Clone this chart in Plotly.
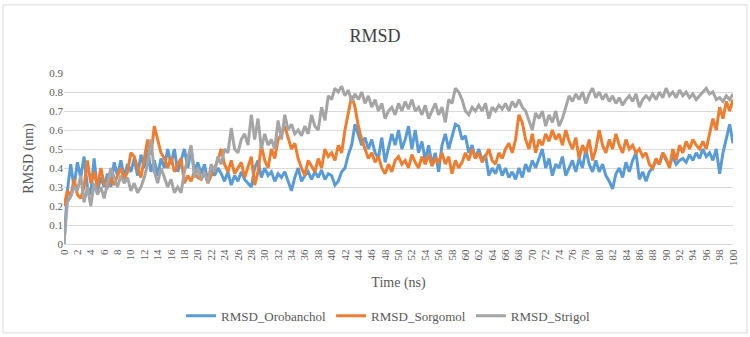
import plotly.graph_objects as go

time_ns = [i * 0.5 for i in range(201)]

orobanchol = [
0.00,0.28,0.42,0.30,0.43,0.35,0.46,0.30,0.26,0.45,0.28,0.35,0.30,0.37,0.30,0.43,0.36,0.44,0.35,0.42,
0.38,0.45,0.36,0.47,0.40,0.50,0.38,0.44,0.36,0.45,0.40,0.50,0.42,0.50,0.38,0.44,0.50,0.40,0.50,0.38,
0.43,0.37,0.42,0.33,0.40,0.36,0.40,0.37,0.33,0.38,0.31,0.36,0.33,0.38,0.34,0.32,0.30,0.40,0.44,0.35,
0.40,0.36,0.38,0.33,0.37,0.35,0.38,0.33,0.28,0.35,0.40,0.33,0.36,0.38,0.34,0.38,0.35,0.39,0.34,0.37,
0.36,0.31,0.33,0.38,0.40,0.47,0.52,0.63,0.58,0.52,0.56,0.50,0.55,0.48,0.45,0.56,0.43,0.50,0.58,0.52,
0.60,0.50,0.55,0.62,0.50,0.60,0.48,0.54,0.44,0.52,0.42,0.48,0.38,0.52,0.58,0.50,0.56,0.63,0.62,0.55,
0.57,0.48,0.52,0.45,0.50,0.44,0.47,0.36,0.40,0.37,0.42,0.36,0.40,0.35,0.38,0.34,0.40,0.35,0.42,0.38,
0.44,0.40,0.45,0.50,0.40,0.45,0.36,0.42,0.40,0.46,0.36,0.40,0.44,0.38,0.45,0.40,0.50,0.42,0.38,0.44,
0.38,0.42,0.36,0.33,0.29,0.37,0.40,0.35,0.43,0.38,0.44,0.48,0.34,0.38,0.33,0.38,0.40,0.44,0.42,0.48,
0.44,0.41,0.46,0.42,0.44,0.45,0.43,0.47,0.44,0.48,0.45,0.50,0.46,0.48,0.44,0.50,0.37,0.48,0.55,0.63,
0.53]

sorgomol = [
0.20,0.28,0.25,0.34,0.26,0.24,0.30,0.44,0.32,0.38,0.30,0.40,0.32,0.30,0.35,0.31,0.36,0.40,0.34,0.38,
0.48,0.46,0.40,0.35,0.45,0.55,0.47,0.62,0.55,0.48,0.45,0.40,0.46,0.38,0.42,0.45,0.32,0.36,0.33,0.38,
0.35,0.34,0.38,0.32,0.36,0.40,0.44,0.50,0.42,0.38,0.44,0.37,0.40,0.43,0.35,0.40,0.46,0.31,0.38,0.52,
0.44,0.40,0.50,0.45,0.55,0.58,0.62,0.56,0.50,0.53,0.45,0.40,0.36,0.44,0.41,0.38,0.45,0.40,0.50,0.46,
0.48,0.44,0.52,0.48,0.60,0.70,0.78,0.72,0.62,0.55,0.50,0.45,0.48,0.43,0.46,0.40,0.37,0.42,0.38,0.44,
0.46,0.42,0.44,0.40,0.47,0.43,0.40,0.46,0.42,0.47,0.41,0.45,0.43,0.48,0.42,0.46,0.37,0.44,0.40,0.43,
0.48,0.44,0.50,0.45,0.48,0.43,0.46,0.50,0.44,0.42,0.48,0.45,0.50,0.53,0.48,0.55,0.68,0.64,0.55,0.50,
0.58,0.48,0.55,0.52,0.58,0.54,0.60,0.55,0.58,0.52,0.60,0.54,0.50,0.56,0.45,0.52,0.48,0.55,0.44,0.50,
0.60,0.52,0.48,0.55,0.50,0.58,0.52,0.48,0.55,0.50,0.52,0.48,0.50,0.46,0.48,0.42,0.40,0.45,0.42,0.48,
0.45,0.40,0.50,0.44,0.52,0.48,0.54,0.50,0.55,0.52,0.50,0.54,0.50,0.58,0.66,0.60,0.72,0.66,0.75,0.70,
0.76]

strigol = [
0.00,0.22,0.25,0.30,0.28,0.36,0.22,0.30,0.20,0.32,0.26,0.30,0.24,0.32,0.40,0.35,0.30,0.36,0.32,0.35,
0.28,0.32,0.27,0.30,0.35,0.42,0.55,0.38,0.32,0.40,0.35,0.30,0.34,0.27,0.30,0.27,0.38,0.45,0.52,0.35,
0.40,0.34,0.38,0.32,0.42,0.38,0.46,0.42,0.50,0.48,0.61,0.50,0.48,0.55,0.58,0.52,0.68,0.55,0.66,0.50,
0.58,0.52,0.55,0.50,0.65,0.55,0.68,0.60,0.63,0.58,0.60,0.57,0.62,0.58,0.68,0.62,0.60,0.72,0.65,0.78,
0.76,0.82,0.80,0.83,0.78,0.81,0.75,0.79,0.76,0.80,0.74,0.78,0.72,0.76,0.70,0.74,0.66,0.70,0.72,0.68,
0.74,0.70,0.75,0.71,0.76,0.70,0.72,0.68,0.73,0.66,0.70,0.74,0.68,0.72,0.64,0.76,0.74,0.82,0.80,0.76,
0.70,0.68,0.72,0.70,0.73,0.70,0.74,0.66,0.72,0.70,0.73,0.71,0.74,0.70,0.75,0.72,0.76,0.72,0.70,0.65,
0.60,0.69,0.66,0.70,0.62,0.68,0.64,0.70,0.62,0.66,0.72,0.78,0.75,0.79,0.76,0.80,0.74,0.79,0.82,0.77,
0.80,0.76,0.79,0.75,0.78,0.74,0.77,0.73,0.76,0.78,0.75,0.79,0.72,0.76,0.78,0.76,0.79,0.76,0.80,0.77,
0.82,0.78,0.80,0.77,0.81,0.78,0.80,0.77,0.79,0.76,0.78,0.80,0.82,0.79,0.80,0.76,0.77,0.75,0.78,0.76,
0.79]

x_ticks = list(range(0, 101, 2))
y_ticks = [0, 0.1, 0.2, 0.3, 0.4, 0.5, 0.6, 0.7, 0.8, 0.9]

series = [
    ("RMSD_Orobanchol", orobanchol, "#5B9BD5"),
    ("RMSD_Sorgomol", sorgomol, "#ED7D31"),
    ("RMSD_Strigol", strigol, "#A5A5A5"),
]

font_family = "Liberation Serif"

fig = go.Figure()
for name, vals, color in series:
    fig.add_trace(go.Scatter(x=time_ns, y=vals, mode="lines", name=name,
                             line=dict(color=color, width=3)))

fig.update_layout(
    width=750, height=337,
    margin=dict(l=64, r=17, t=73, b=93, autoexpand=False),
    paper_bgcolor="white", plot_bgcolor="white",
    font=dict(family=font_family, color="#595959", size=11),
    title=dict(text="RMSD", x=0.5, xanchor="center", y=0.895, yanchor="middle",
               font=dict(family=font_family, size=18, color="#404040")),
    showlegend=True,
    legend=dict(orientation="h", x=0.485, xanchor="center", y=-0.42, yanchor="middle",
                font=dict(family=font_family, size=13, color="#595959"),
                itemwidth=30),
    shapes=[dict(type="rect", xref="paper", yref="paper",
                 x0=-0.0912, x1=1.0209, y0=-0.52, y1=1.398,
                 line=dict(color="#D9D9D9", width=1), fillcolor="rgba(0,0,0,0)",
                 layer="below")],
)

fig.update_xaxes(range=[0, 100], tickmode="array", tickvals=x_ticks,
                 ticktext=[str(t) for t in x_ticks], tickangle=-90, automargin=False,
                 showgrid=False, zeroline=False, showline=True, linecolor="#D9D9D9",
                 linewidth=1, ticks="", tickfont=dict(family=font_family, size=11, color="#595959"),
                 title=dict(text="Time (ns)", font=dict(family=font_family, size=14, color="#595959"), standoff=12))
fig.update_yaxes(range=[0, 0.9], tickmode="array", tickvals=y_ticks,
                 ticktext=[str(t) for t in y_ticks], automargin=False,
                 showgrid=True, gridcolor="#D9D9D9", gridwidth=1, zeroline=False,
                 showline=False, ticks="", tickfont=dict(family=font_family, size=11, color="#595959"),
                 title=dict(text="RMSD (nm)", font=dict(family=font_family, size=14, color="#595959"), standoff=12))

fig.write_html("out.html", config={"displayModeBar": False},
               post_script="document.body.style.margin='0';")
